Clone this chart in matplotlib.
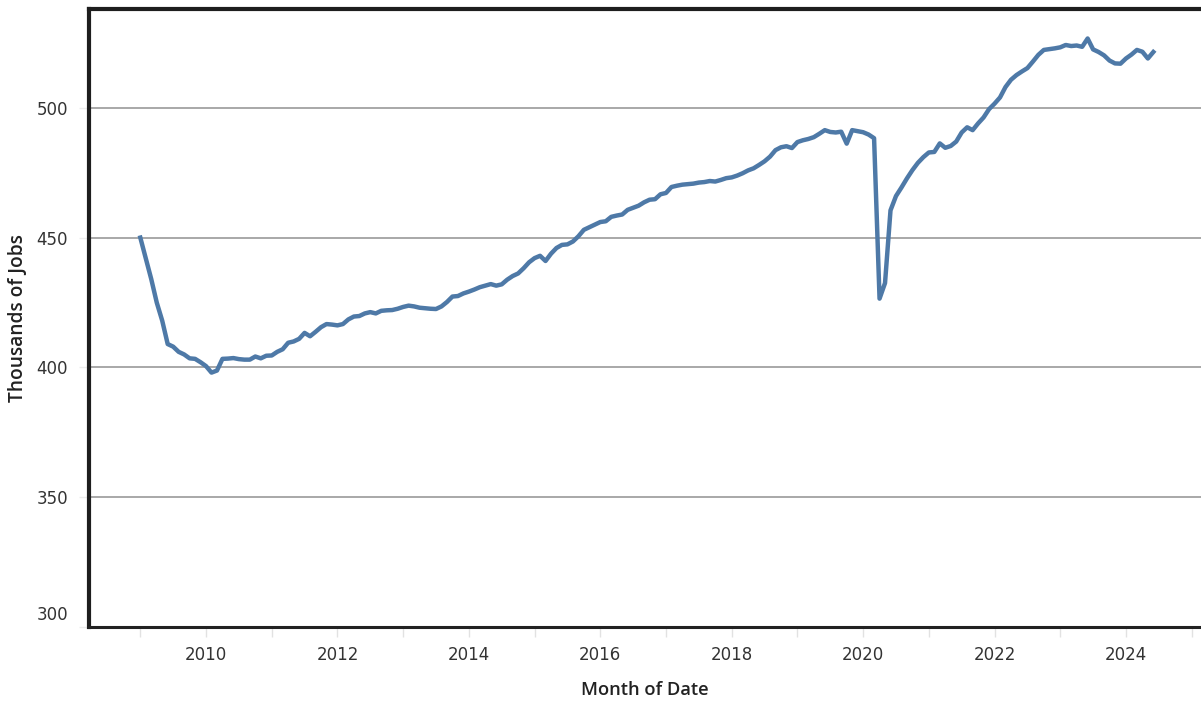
import numpy as np
import matplotlib
matplotlib.use("Agg")
import matplotlib.pyplot as plt
import matplotlib.transforms as mtransforms

# monthly values, Jan 2009 .. Jun 2024 (thousands of jobs)
jobs_2009 = [450, 442, 434, 425, 418, 409, 408, 406, 405, 403.5, 403.3, 402]
jobs_2010 = [400.5, 398, 398.8, 403.3, 403.4, 403.6, 403.2, 403.0, 403.0, 404.2, 403.5, 404.5]
jobs_2011 = [404.6, 406, 407, 409.5, 410, 411, 413.3, 412, 413.7, 415.5, 416.7, 416.5]
jobs_2012 = [416.2, 416.7, 418.5, 419.6, 419.8, 420.8, 421.3, 420.8, 421.8, 422, 422.1, 422.6]
jobs_2013 = [423.3, 423.8, 423.5, 423, 422.8, 422.6, 422.5, 423.5, 425.2, 427.3, 427.5, 428.5]
jobs_2014 = [429.2, 430, 430.9, 431.5, 432.1, 431.5, 432, 433.8, 435.2, 436.2, 438.2, 440.5]
jobs_2015 = [442.1, 443, 441, 443.8, 446, 447.2, 447.4, 448.5, 450.5, 453, 454, 455]
jobs_2016 = [456, 456.3, 458, 458.5, 458.9, 460.7, 461.5, 462.3, 463.6, 464.6, 464.8, 466.7]
jobs_2017 = [467.2, 469.5, 470, 470.4, 470.6, 470.8, 471.2, 471.4, 471.8, 471.6, 472.2, 472.9]
jobs_2018 = [473.2, 473.9, 474.8, 475.9, 476.7, 478, 479.4, 481.2, 483.7, 484.8, 485.2, 484.5]
jobs_2019 = [486.8, 487.5, 488, 488.7, 490, 491.4, 490.7, 490.5, 490.8, 486.2, 491.4, 491]
jobs_2020 = [490.6, 489.7, 488.3, 426.5, 432.5, 460.5, 466, 469.3, 472.8, 476, 478.8, 481]
jobs_2021 = [482.8, 483, 486.3, 484.6, 485.3, 487, 490.5, 492.5, 491.4, 494, 496.3, 499.5]
jobs_2022 = [501.6, 504, 508, 510.8, 512.6, 514, 515.3, 517.8, 520.4, 522.3, 522.6, 522.9]
jobs_2023 = [523.3, 524.2, 523.8, 524, 523.5, 526.7, 522.5, 521.5, 520.2, 518.2, 517.1, 517]
jobs_2024 = [519, 520.5, 522.3, 521.6, 519, 521.5]

jobs = (jobs_2009 + jobs_2010 + jobs_2011 + jobs_2012 + jobs_2013 + jobs_2014 +
        jobs_2015 + jobs_2016 + jobs_2017 + jobs_2018 + jobs_2019 + jobs_2020 +
        jobs_2021 + jobs_2022 + jobs_2023 + jobs_2024)
months = 2009 + np.arange(len(jobs)) / 12.0

year_ticks = [2010, 2012, 2014, 2016, 2018, 2020, 2022, 2024]
y_ticks = [300, 350, 400, 450, 500]

fig = plt.figure(figsize=(12.01, 7.05), dpi=100)
ax = fig.add_axes([0.0741, 0.1106, 0.9259, 0.8764])

for v in y_ticks[1:]:
    ax.axhline(v, color="#9a9a9a", lw=1.2, zorder=1)

ax.plot(months, jobs, color="#4e79a7", lw=3.2, solid_joinstyle="round", zorder=3)

ax.set_xlim(2008.219, 2025.142)
ax.set_ylim(300.5, 538)

ax.set_xticks(year_ticks)
ax.set_xticks(np.arange(2009, 2026, 2), minor=True)
ax.set_yticks(y_ticks)
ax.tick_params(axis="x", which="both", length=7, width=1, color="#e2e2e2",
               labelsize=12, labelcolor="#333333", pad=7)
ax.tick_params(axis="y", length=7, width=1, color="#ececec",
               labelsize=12, labelcolor="#333333", pad=8)

# Tableau pushes the bottom axis label up inside the pane
lbl = ax.get_yticklabels()[0]
lbl.set_transform(lbl.get_transform() + mtransforms.ScaledTranslation(0, 0.14, fig.dpi_scale_trans))

for side in ["left", "top"]:
    ax.spines[side].set_color("#1e1e1e")
    ax.spines[side].set_linewidth(3)
ax.spines["bottom"].set_color("#222222")
ax.spines["bottom"].set_linewidth(2.2)
ax.spines["right"].set_visible(False)

lab_font = dict(color="#222222", family=["Open Sans", "DejaVu Sans"], fontweight="semibold")
ax.set_xlabel("Month of Date", fontsize=13.2, labelpad=12, **lab_font)
ax.set_ylabel("Thousands of Jobs", fontsize=13.8, labelpad=6, **lab_font)

fig.savefig("out.png", dpi=100)
